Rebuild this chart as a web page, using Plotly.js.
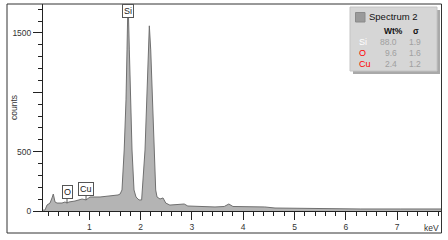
<!DOCTYPE html>
<html>
<head>
<meta charset="utf-8">
<script src="https://cdn.plot.ly/plotly-3.0.1.min.js"></script>
<style>html,body{margin:0;padding:0;background:#fff;}#chart{width:448px;height:240px;}</style>
</head>
<body>
<div id="chart"></div>
<script>
// Spectrum data (keV, counts)
var energy = [0.10,0.136,0.175,0.234,0.273,0.298,0.331,0.37,0.468,0.526,0.565,0.604,0.721,0.858,0.936,1.014,1.209,1.404,1.56,1.60,1.637,1.68,1.715,1.735,1.754,1.78,1.805,1.832,1.871,1.91,1.969,2.02,2.086,2.119,2.15,2.17,2.197,2.228,2.26,2.294,2.32,2.378,2.437,2.49,2.57,2.67,2.85,2.92,3.16,3.45,3.63,3.72,3.80,4.13,4.33,4.42,4.62,5.11,5.69,6.28,7.06,7.86];
var counts = [8,8,50,67,110,143,76,67,67,76,67,76,84,101,93,118,118,126,135,143,177,514,936,1357,1800,1357,936,514,177,118,93,93,514,936,1357,1560,1357,936,514,177,118,101,110,67,50,55,59,42,38,34,38,59,38,34,30,34,25,21,21,17,17,17];

// Peak labels
var peakNames = ["Si","O","Cu"];
var peakEnergy = [1.754,0.565,0.936];
var peakCounts = [1800,67,93];

// Quantification table
var tableElements = ["Si","O","Cu"];
var tableWt = ["88.0","9.6","2.4"];
var tableSigma = ["1.9","1.6","1.2"];
var spectrumName = "Spectrum 2";

var xTickVals = [1,2,3,4,5,6,7];
var yTickVals = [0,500,1000,1500];
var yTickText = ["0","500","","1500"];

// pixel -> paper helpers (plot area: x 43..441, y 4..211)
function px(x){ return (x-43)/398; }
function py(y){ return (211-y)/207; }

var FONT = "Liberation Sans, Arial, sans-serif";

var trace = {
  x: energy, y: counts, type: "scatter", mode: "lines",
  fill: "tozeroy", fillcolor: "#b4b4b4",
  line: {color: "#707070", width: 1},
  hoverinfo: "none"
};

var annotations = [];
// Si box at top
annotations.push({
  x: peakEnergy[0], xref: "x", y: 1, yref: "paper", xanchor: "center", yanchor: "top",
  text: peakNames[0], showarrow: false,
  font: {family: FONT, size: 9, color: "#222"},
  bgcolor: "#ffffff", bordercolor: "#555", borderwidth: 1, borderpad: 1
});
for (var i = 1; i < peakNames.length; i++) {
  annotations.push({
    x: peakEnergy[i], xref: "x", y: peakCounts[i], yref: "y",
    text: peakNames[i], showarrow: true, arrowhead: 0, arrowwidth: 1,
    arrowcolor: "#555", ax: 0, ay: -11,
    font: {family: FONT, size: 9, color: "#222"},
    bgcolor: "#ffffff", bordercolor: "#555", borderwidth: 1, borderpad: 1
  });
}
function label(x, y, text, size, color, xanchor, extra) {
  var a = {x: px(x), y: py(y), xref: "paper", yref: "paper", xanchor: xanchor || "center",
    yanchor: "middle", text: text, showarrow: false, font: {family: FONT, size: size, color: color}};
  if (extra) for (var k in extra) a[k] = extra[k];
  annotations.push(a);
}
// counts title
label(14, 108, "counts", 8.5, "#333", "center", {textangle: -90});
// keV label
label(441, 228, "keV", 8.5, "#333", "right");

// legend/table box
label(367, 17, spectrumName, 9.5, "#111", "left");
label(393, 31, "<b>Wt%</b>", 8.5, "#111", "center");
label(416, 31, "<b>σ</b>", 8.5, "#111", "center");
var rowY = [42, 53, 64];
var elemColors = ["#ffffff", "#ff0000", "#ff0000"];
for (var r = 0; r < tableElements.length; r++) {
  label(357, rowY[r], tableElements[r], 9, elemColors[r], "left");
  label(399, rowY[r], tableWt[r], 8.5, "#a0a0a0", "right");
  label(423, rowY[r], tableSigma[r], 8.5, "#a0a0a0", "right");
}

var shapes = [
  // outer frame
  {type: "rect", xref: "paper", yref: "paper", x0: px(7), x1: px(441.5), y0: py(233), y1: py(4),
   line: {color: "#333", width: 1}, fillcolor: "rgba(0,0,0,0)", layer: "above"},
  // table shadow
  {type: "rect", xref: "paper", yref: "paper", x0: px(353), x1: px(440), y0: py(74), y1: py(10),
   line: {width: 0}, fillcolor: "#a9a9a9", layer: "above"},
  // table box
  {type: "rect", xref: "paper", yref: "paper", x0: px(350), x1: px(437), y0: py(71), y1: py(7),
   line: {color: "#c4c4c4", width: 1}, fillcolor: "#d6d6d6", layer: "above"},
  // swatch
  {type: "rect", xref: "paper", yref: "paper", x0: px(355.5), x1: px(365), y0: py(22), y1: py(12.5),
   line: {color: "#8a8a8a", width: 1}, fillcolor: "#9a9a9a", layer: "above"}
];

var layout = {
  width: 448, height: 240,
  margin: {l: 43, r: 7, t: 4, b: 29, pad: 0},
  paper_bgcolor: "#ffffff", plot_bgcolor: "#ffffff",
  showlegend: false,
  font: {family: FONT, size: 8.5, color: "#333"},
  xaxis: {
    range: [0.097, 7.856], tickmode: "array", tickvals: xTickVals,
    ticks: "outside", ticklen: 8, tickwidth: 1, tickcolor: "#222",
    showline: true, linecolor: "#222", linewidth: 1, showgrid: false, zeroline: false,
    tickfont: {family: FONT, size: 8.5, color: "#333"},
    minor: {tickmode: "linear", tick0: 0, dtick: 0.2, ticks: "outside", ticklen: 4, tickcolor: "#222", showgrid: false}
  },
  yaxis: {
    range: [0, 1744], tickmode: "array", tickvals: yTickVals, ticktext: yTickText,
    ticks: "outside", ticklen: 9, tickwidth: 1, tickcolor: "#222",
    showline: true, linecolor: "#222", linewidth: 1, showgrid: false, zeroline: false,
    tickfont: {family: FONT, size: 8.5, color: "#333"},
    minor: {tickmode: "linear", tick0: 0, dtick: 100, ticks: "outside", ticklen: 4, tickcolor: "#222", showgrid: false}
  },
  annotations: annotations,
  shapes: shapes
};

Plotly.newPlot("chart", [trace], layout, {staticPlot: true, displayModeBar: false});
</script>
</body>
</html>
